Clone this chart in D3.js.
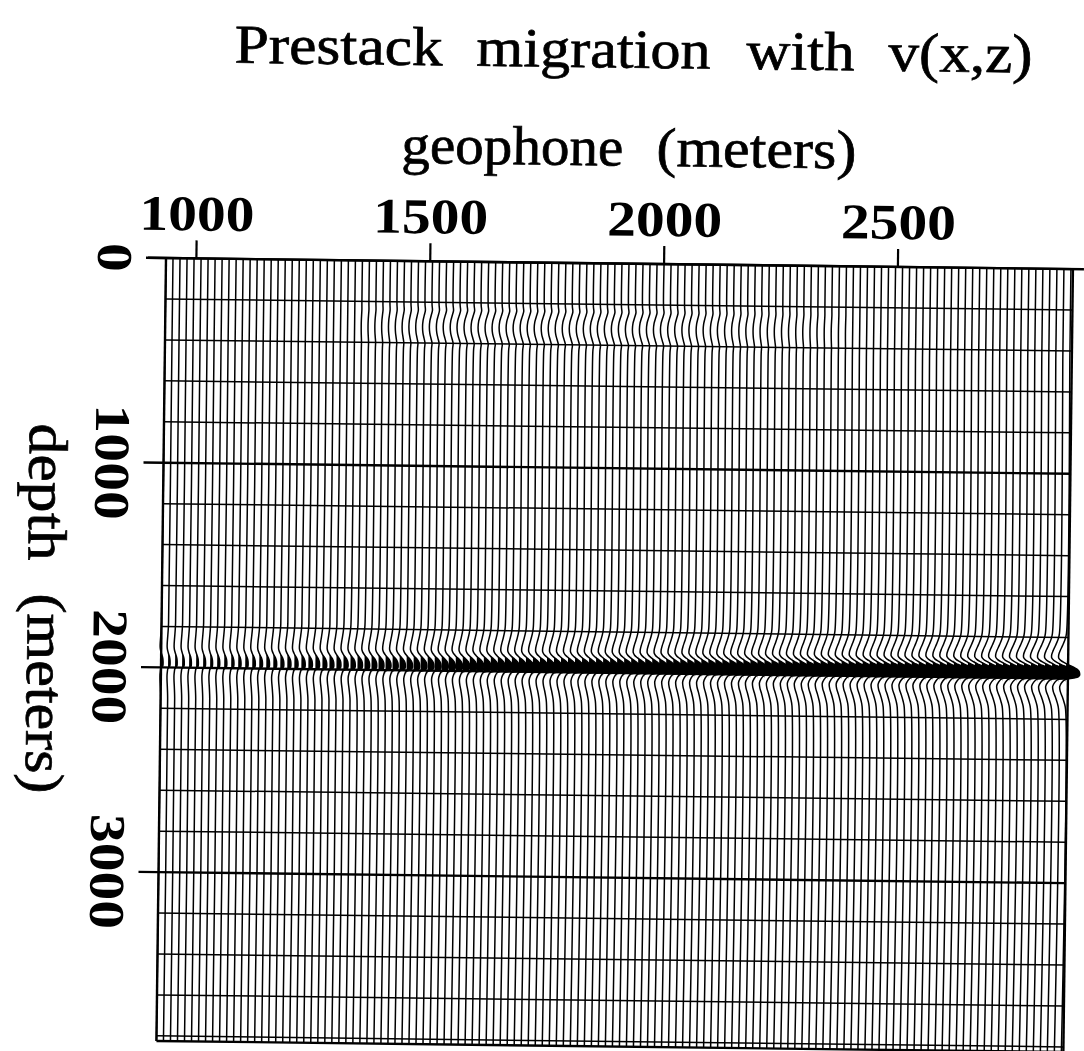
<!DOCTYPE html>
<html>
<head>
<meta charset="utf-8">
<script src="https://cdn.jsdelivr.net/npm/d3@7"></script>
<style>
  body { margin: 0; background: #fff; }
  svg { display: block; }
</style>
</head>
<body>
<svg id="chart" width="1084" height="1051"></svg>
<script>
// geophone positions of the traces (meters)
const geophones = d3.range(935, 2871, 15);
const xTicks = [1000, 1500, 2000, 2500];
const depthTicks = [0, 1000, 2000, 3000];
const gridDepths = d3.range(0, 3801, 200);

// reflector at 2000 m: wavelet samples (offset in m from the reflector, amplitude)
const reflectorDepth = 2000;
const waveletOffsets = [-220, -190, -160, -135, -115, -100, -88, -76, -66, -56, -46, -36, -26, -16, -8, -2, 5, 20, 40, 65, 90, 120, 150];
const waveletValues  = [0, -0.1, -0.28, -0.45, -0.55, -0.55, -0.4, -0.1, 0.2, 0.55, 0.8, 0.95, 1.0, 1.0, 0.9, 0.55, -0.05, -0.3, -0.45, -0.4, -0.25, -0.1, 0];

// reflector strength per trace, read left to right
const reflectorAmp = [
  0.25, 0.25, 0.26, 0.27, 0.28, 0.28, 0.3, 0.3, 0.32, 0.33,
  0.34, 0.35, 0.36, 0.38, 0.4, 0.4, 0.42, 0.44, 0.45, 0.46,
  0.48, 0.5, 0.52, 0.54, 0.55, 0.56, 0.58, 0.6, 0.62, 0.64,
  0.65, 0.67, 0.68, 0.7, 0.72, 0.74, 0.75, 0.77, 0.78, 0.8,
  0.82, 0.83, 0.85, 0.86, 0.88, 0.89, 0.9, 0.92, 0.93, 0.94,
  0.95, 0.96, 0.98, 0.99, 1.0, 1.01, 1.02, 1.03, 1.04, 1.05,
  1.06, 1.07, 1.08, 1.09, 1.1, 1.11, 1.12, 1.13, 1.14, 1.15,
  1.16, 1.17, 1.18, 1.19, 1.2, 1.21, 1.22, 1.23, 1.24, 1.25,
  1.26, 1.27, 1.28, 1.29, 1.3, 1.31, 1.32, 1.33, 1.34, 1.35,
  1.36, 1.37, 1.38, 1.39, 1.4, 1.41, 1.42, 1.43, 1.44, 1.45,
  1.46, 1.47, 1.48, 1.49, 1.5, 1.51, 1.52, 1.53, 1.54, 1.55,
  1.56, 1.57, 1.58, 1.59, 1.6, 1.61, 1.62, 1.63, 1.64, 1.65,
  1.66, 1.67, 1.68, 1.69, 1.7, 1.7, 1.7, 1.7, 1.7, 1.7
];

// shallow migration artefact near 320 m
const shallowDepth = 320;
const shallowOffsets = [-110, -80, -55, -30, 0, 30, 55, 80, 110];
const shallowValues  = [0, 0.1, -0.15, -0.4, -0.5, -0.4, -0.15, 0.1, 0];
const shallowAmp = [
  0, 0, 0, 0, 0, 0, 0, 0, 0, 0,
  0, 0, 0, 0, 0, 0, 0, 0, 0, 0,
  0, 0, 0, 0, 0, 0, 0, 0, 0.1, 0.15,
  0.2, 0.25, 0.3, 0.35, 0.4, 0.45, 0.5, 0.55, 0.6, 0.6,
  0.65, 0.65, 0.7, 0.7, 0.7, 0.7, 0.7, 0.7, 0.7, 0.7,
  0.7, 0.7, 0.7, 0.7, 0.7, 0.7, 0.7, 0.7, 0.7, 0.7,
  0.7, 0.7, 0.7, 0.7, 0.7, 0.7, 0.7, 0.7, 0.7, 0.7,
  0.7, 0.7, 0.65, 0.65, 0.6, 0.6, 0.55, 0.55, 0.5, 0.5,
  0.45, 0.45, 0.4, 0.4, 0.35, 0.35, 0.3, 0.3, 0.25, 0.25,
  0.2, 0.2, 0.15, 0.15, 0.1, 0.1, 0.05, 0.05, 0, 0,
  0, 0, 0, 0, 0, 0, 0, 0, 0, 0,
  0, 0, 0, 0, 0, 0, 0, 0, 0, 0,
  0, 0, 0, 0, 0, 0, 0, 0, 0, 0
];

const titleWords = ["Prestack", "migration", "with", "v(x,z)"];
const xLabelWords = ["geophone", "(meters)"];
const yLabelWords = ["depth", "(meters)"];

const svg = d3.select("#chart");
const x = d3.scaleLinear().domain([935, 2870]).range([166, 1071]);
const y = d3.scaleLinear().domain([0, 3825]).range([258, 1041]);
const unit = 8; // px per unit trace amplitude

// scanned page is slightly rotated
const g = svg.append("g").attr("transform", "rotate(0.7,165,258)");

// words placed like TeX output: [start, width] along the line
function wordRow(parent, words, spans, transform) {
  const row = parent.append("g").attr("transform", transform);
  row.selectAll("text").data(words).enter().append("text")
    .attr("x", (d, i) => spans[i][0])
    .attr("textLength", (d, i) => spans[i][1])
    .attr("lengthAdjust", "spacingAndGlyphs")
    .style("font-family", "Liberation Serif").style("font-size", "55px")
    .style("stroke", "#000").style("stroke-width", 0.7)
    .text(d => d);
}

wordRow(g, titleWords, [[232, 208], [474, 234], [744, 108], [886, 144]], "translate(0,62)");
wordRow(g, xLabelWords, [[400, 222], [655, 200]], "translate(0,160)");
wordRow(g, yLabelWords, [[0, 137], [170, 200]], "translate(32,425) rotate(90)");

// top axis
g.append("line")
  .attr("x1", 148).attr("x2", 1084)
  .attr("y1", y(0)).attr("y2", y(0))
  .attr("stroke", "#000").attr("stroke-width", 2.4);

g.selectAll(".xtick").data(xTicks).enter().append("line")
  .attr("x1", d => x(d)).attr("x2", d => x(d))
  .attr("y1", y(0) - 18).attr("y2", y(0))
  .attr("stroke", "#000").attr("stroke-width", 2.2);

g.selectAll(".xlab").data(xTicks).enter().append("text")
  .attr("x", d => x(d)).attr("y", 230)
  .attr("text-anchor", "middle")
  .attr("textLength", 115).attr("lengthAdjust", "spacingAndGlyphs")
  .style("font-family", "Liberation Serif").style("font-weight", "bold")
  .style("font-size", "50px")
  .text(d => d);

// left axis
g.selectAll(".ytick").data(depthTicks).enter().append("line")
  .attr("x1", 146).attr("x2", x(935))
  .attr("y1", d => y(d)).attr("y2", d => y(d))
  .attr("stroke", "#000").attr("stroke-width", 2.4);

g.selectAll(".ylab").data(depthTicks).enter().append("text")
  .attr("transform", d => "translate(98," + y(d) + ") rotate(90)")
  .attr("text-anchor", "middle")
  .attr("textLength", d => String(d).length * 28.8).attr("lengthAdjust", "spacingAndGlyphs")
  .style("font-family", "Liberation Serif").style("font-weight", "bold")
  .style("font-size", "50px")
  .text(d => d);

// horizontal lines every 200 m
g.selectAll(".grid").data(gridDepths).enter().append("line")
  .attr("x1", x(935)).attr("x2", x(2870) + 2)
  .attr("y1", d => y(d)).attr("y2", d => y(d))
  .attr("stroke", "#000")
  .attr("stroke-width", d => d % 1000 === 0 ? 2.4 : 1.5);

// frame
g.append("line")
  .attr("x1", x(935)).attr("x2", x(2870) + 2)
  .attr("y1", y(3825)).attr("y2", y(3825))
  .attr("stroke", "#000").attr("stroke-width", 2.4);
g.append("line")
  .attr("x1", x(935)).attr("x2", x(935))
  .attr("y1", y(0)).attr("y2", y(3825))
  .attr("stroke", "#000").attr("stroke-width", 2.4);
g.append("line")
  .attr("x1", x(2870) + 2).attr("x2", x(2870) + 2)
  .attr("y1", y(0)).attr("y2", y(3825))
  .attr("stroke", "#000").attr("stroke-width", 2.4);

// build trace samples: depth, value
function traceSamples(i) {
  const pts = [[0, 0]];
  shallowOffsets.forEach((o, k) => pts.push([shallowDepth + o, shallowValues[k] * shallowAmp[i]]));
  waveletOffsets.forEach((o, k) => pts.push([reflectorDepth + o, waveletValues[k] * reflectorAmp[i]]));
  pts.push([3825, 0]);
  return pts;
}

const traces = geophones.map((gx, i) => ({ gx: gx, i: i, pts: traceSamples(i) }));

const line = d3.line().curve(d3.curveCatmullRom.alpha(0.5));
const area = d3.area().curve(d3.curveCatmullRom.alpha(0.5));

// variable-area fill of the positive lobe
g.append("g").selectAll("path").data(traces).enter().append("path")
  .attr("d", t => {
    const base = x(t.gx);
    const seg = waveletOffsets.map((o, k) => [reflectorDepth + o, Math.max(0, waveletValues[k] * reflectorAmp[t.i])]);
    return area.x0(() => base).x1(p => base + p[1] * unit).y(p => y(p[0]))(seg);
  })
  .attr("fill", "#000");

// wiggles
g.append("g").selectAll("path").data(traces).enter().append("path")
  .attr("d", t => line.x(p => x(t.gx) + p[1] * unit).y(p => y(p[0]))(t.pts))
  .attr("fill", "none")
  .attr("stroke", "#000")
  .attr("stroke-width", 1.5);
</script>
</body>
</html>
